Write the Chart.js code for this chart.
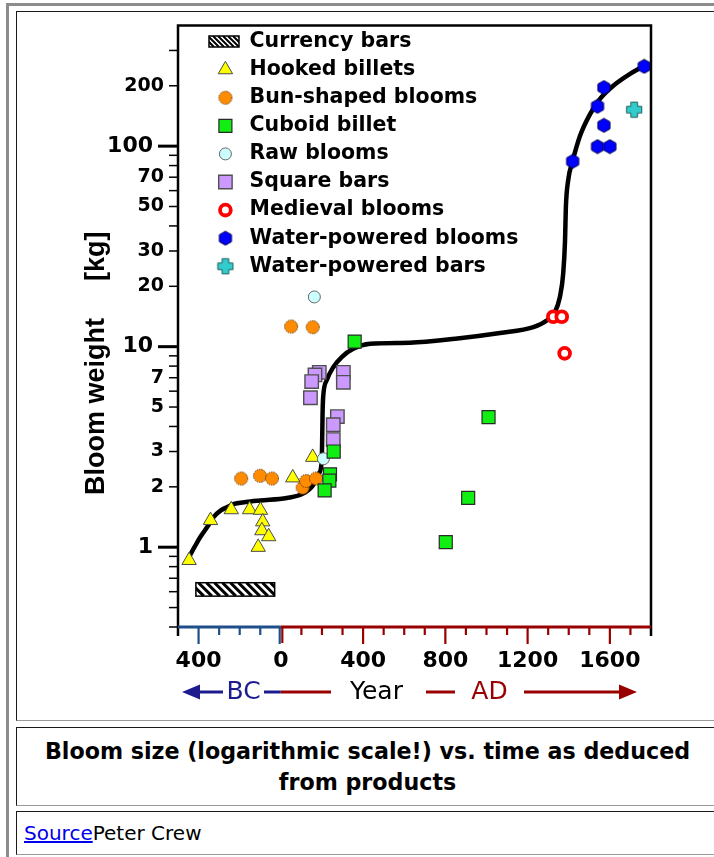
<!DOCTYPE html>
<html>
<head>
<meta charset="utf-8">
<title>Bloom size vs. time</title>
<script src="https://cdn.jsdelivr.net/npm/chart.js@4.4.1/dist/chart.umd.min.js"></script>
<style>
  html, body { margin:0; padding:0; background:#fff; }
  body { width:714px; height:857px; overflow:hidden; position:relative; }
  .box { position:absolute; box-sizing:border-box; }
  #outer { left:6px; top:3px; width:740px; height:900px; border-left:3px solid #8c8c8c; border-top:3px solid #8c8c8c; }
  .cell { left:16px; width:703px; border-top:1px solid #1a1a1a; border-left:1px solid #1a1a1a; border-right:1px solid #9a9a9a; border-bottom:1px solid #9a9a9a; }
  #c1 { top:11px; height:710px; }
  #c2 { top:727px; height:79px; }
  #c3 { top:811px; height:44px; }
  #caption { position:absolute; left:0; right:0; top:8px; text-align:center; font:bold 22.2px "DejaVu Sans", sans-serif; line-height:31px; color:#000; }
  #source { position:absolute; left:7px; top:10px; font:20px "DejaVu Sans", sans-serif; line-height:22px; color:#000; white-space:nowrap; }
  #source a { color:#0000ee; text-decoration:underline; }
  #chart { position:absolute; left:0; top:0; }
</style>
</head>
<body>
<div id="outer" class="box"></div>
<div id="c1" class="box cell"></div>
<div id="c2" class="box cell"><div id="caption">Bloom size (logarithmic scale!) vs. time as deduced<br>from products</div></div>
<div id="c3" class="box cell"><div id="source"><a href="#">Source</a>Peter Crew</div></div>
<canvas id="chart" width="714" height="720"></canvas>
<script>
// ---------------- data (years: negative = BC; weights in kg) ----------------
const hookedYear = [-446, -342, -241, -152, -99, -88, -92, -59, -110, 58, 155];
const hookedKg   = [0.86, 1.36, 1.54, 1.54, 1.53, 1.34, 1.21, 1.13, 1.00, 2.22, 2.81];

const bunYear = [50, 155, -193, -101, -43, 106, 123, 171];
const bunKg   = [12.6, 12.5, 2.20, 2.27, 2.20, 1.98, 2.14, 2.20];

const cuboidYear = [359, 257, 239, 236, 213, 802, 911, 1010];
const cuboidKg   = [10.6, 3.00, 2.31, 2.15, 1.92, 1.06, 1.76, 4.45];

const rawYear = [163, 207];
const rawKg   = [17.7, 2.76];

const squareYear = [187, 166, 150, 144, 304, 304, 275, 255, 255];
const squareKg   = [7.45, 7.23, 6.70, 5.56, 7.45, 6.64, 4.48, 4.08, 3.44];

const medievalYear = [1325, 1366, 1380];
const medievalKg   = [14.1, 14.1, 9.26];

const waterBloomYear = [1419, 1540, 1571, 1767, 1571, 1540, 1600];
const waterBloomKg   = [84, 158, 196, 250, 127, 99.5, 99.5];

const waterBarYear = [1718];
const waterBarKg   = [152];

const currencyYear = [-413, -30];
const currencyKg   = [0.57, 0.665];

const trendYear = [-446, -420, -390, -358, -325, -290, -258, -232, -170, -101, 29, 108, 157, 186,
                   199, 201, 203, 206, 223, 255, 296, 352, 434, 627, 849, 1066, 1228, 1293, 1333,
                   1357, 1373, 1382, 1386, 1397, 1419, 1455, 1503, 1552, 1617, 1698, 1762];
const trendKg   = [0.895, 1.0, 1.13, 1.26, 1.42, 1.53, 1.59, 1.64, 1.68, 1.71, 1.76, 1.85, 2.04, 2.34,
                   2.71, 3.41, 4.63, 5.62, 6.79, 7.9, 8.88, 9.77, 10.34, 10.47, 10.96, 11.7, 12.5, 13.5, 14.9,
                   17.7, 23.1, 33.8, 49.4, 67.3, 84.3, 112.6, 144, 172, 200, 229, 250];

const legendLabels = ['Currency bars', 'Hooked billets', 'Bun-shaped blooms', 'Cuboid billet', 'Raw blooms',
                      'Square bars', 'Medieval blooms', 'Water-powered blooms', 'Water-powered bars'];

const xTickValues = [-500, -400, -300, -200, -100, 0, 100, 200, 300, 400, 500, 600, 700, 800, 900,
                     1000, 1100, 1200, 1300, 1400, 1500, 1600, 1700, 1800];
const xLabelValues = [-400, 0, 400, 800, 1200, 1600];
const xLabelTexts  = ['400', '0', '400', '800', '1200', '1600'];

const yTickValues = [0.4, 0.5, 0.6, 0.7, 0.8, 0.9, 1, 2, 3, 4, 5, 6, 7, 8, 9, 10, 20, 30, 40, 50, 60, 70, 80, 90, 100, 200, 300];
const yLabelValues = [1, 2, 3, 5, 7, 10, 20, 30, 50, 70, 100, 200];
const yMajorValues = [1, 10, 100];

const yTitleParts = ['Bloom weight', '[kg]'];
const yearRowTexts = ['BC', 'Year', 'AD'];

// ---------------- marker images ----------------
function makeCanvas(w, h, draw) {
  const c = document.createElement('canvas'); c.width = w; c.height = h;
  draw(c.getContext('2d'), w, h); return c;
}
const bunImg = makeCanvas(16, 16, g => {
  g.beginPath(); g.arc(8, 8, 6.5, 0, Math.PI * 2);
  g.fillStyle = '#ff8c00'; g.fill();
  g.setLineDash([1.4, 1.0]); g.strokeStyle = '#5a3000'; g.lineWidth = 1; g.stroke();
});
const hexImg = makeCanvas(16, 16, g => {
  g.beginPath();
  for (let i = 0; i < 6; i++) {
    const a = -Math.PI / 2 + i * Math.PI / 3;
    const px = 8 + 7 * Math.cos(a), py = 8 + 7 * Math.sin(a);
    i ? g.lineTo(px, py) : g.moveTo(px, py);
  }
  g.closePath(); g.fillStyle = '#0000ff'; g.fill();
  g.strokeStyle = '#000050'; g.lineWidth = 1; g.stroke();
});
const crossImg = makeCanvas(18, 18, g => {
  const c = 9, a = 3.3, e = 7.6;
  g.beginPath();
  g.moveTo(c - a, c - e); g.lineTo(c + a, c - e); g.lineTo(c + a, c - a); g.lineTo(c + e, c - a);
  g.lineTo(c + e, c + a); g.lineTo(c + a, c + a); g.lineTo(c + a, c + e); g.lineTo(c - a, c + e);
  g.lineTo(c - a, c + a); g.lineTo(c - e, c + a); g.lineTo(c - e, c - a); g.lineTo(c - a, c - a);
  g.closePath(); g.fillStyle = '#33cccc'; g.fill();
  g.strokeStyle = '#1d5f5f'; g.lineWidth = 1; g.stroke();
});

const styles = {
  hooked:   { pointStyle: 'triangle', pointRadius: 8.3, pointBackgroundColor: '#ffff00', pointBorderColor: '#4a4a4a', pointBorderWidth: 1 },
  bun:      { pointStyle: bunImg, pointRadius: 7, pointBackgroundColor: '#ff8c00', pointBorderColor: '#5a3000', pointBorderWidth: 1 },
  cuboid:   { pointStyle: 'rect', pointRadius: 9.2, pointBackgroundColor: '#11ee11', pointBorderColor: '#2a2a2a', pointBorderWidth: 1.2 },
  raw:      { pointStyle: 'circle', pointRadius: 6, pointBackgroundColor: '#ccffff', pointBorderColor: '#666666', pointBorderWidth: 1 },
  square:   { pointStyle: 'rect', pointRadius: 9.5, pointBackgroundColor: '#cc99ff', pointBorderColor: '#505050', pointBorderWidth: 1.4 },
  medieval: { pointStyle: 'circle', pointRadius: 5.4, pointBackgroundColor: '#ffffff', pointBorderColor: '#ff0000', pointBorderWidth: 3.8 },
  wBloom:   { pointStyle: hexImg, pointRadius: 7, pointBackgroundColor: '#0000ff', pointBorderColor: '#000050', pointBorderWidth: 1 },
  wBar:     { pointStyle: crossImg, pointRadius: 8, pointBackgroundColor: '#33cccc', pointBorderColor: '#1d5f5f', pointBorderWidth: 1 }
};
const legendStyleKeys = [null, 'hooked', 'bun', 'cuboid', 'raw', 'square', 'medieval', 'wBloom', 'wBar'];

const BLUE_AXIS = '#1f4f8a', NAVY = '#1c1c8e', DARKRED = '#990000';

function pts(xs, ys) { return xs.map((x, i) => ({ x: x, y: ys[i] })); }

function hatch(ctx, x, y, w, h, step, lw) {
  ctx.save();
  ctx.fillStyle = '#fff'; ctx.fillRect(x, y, w, h);
  ctx.beginPath(); ctx.rect(x, y, w, h); ctx.clip();
  ctx.strokeStyle = '#000'; ctx.lineWidth = lw;
  ctx.beginPath();
  for (let k = -h; k < w + h; k += step) { ctx.moveTo(x + k, y); ctx.lineTo(x + k + h, y + h); }
  ctx.stroke();
  ctx.restore();
  ctx.save(); ctx.strokeStyle = '#000'; ctx.lineWidth = 1.5; ctx.strokeRect(x, y, w, h); ctx.restore();
}

function drawMarker(ctx, st, x, y) {
  ctx.save();
  ctx.fillStyle = st.pointBackgroundColor; ctx.strokeStyle = st.pointBorderColor; ctx.lineWidth = st.pointBorderWidth;
  const opts = { pointStyle: st.pointStyle, radius: st.pointRadius, rotation: 0, borderWidth: st.pointBorderWidth };
  if (Chart.helpers && Chart.helpers.drawPoint) {
    Chart.helpers.drawPoint(ctx, opts, x, y);
  } else if (st.pointStyle instanceof HTMLCanvasElement) {
    ctx.drawImage(st.pointStyle, x - st.pointStyle.width / 2, y - st.pointStyle.height / 2);
  }
  ctx.restore();
}

const decor = {
  id: 'decor',
  beforeDatasetsDraw(chart) {
    const ctx = chart.ctx, xs = chart.scales.x, ys = chart.scales.y;
    const x0 = xs.getPixelForValue(currencyYear[0]), x1 = xs.getPixelForValue(currencyYear[1]);
    const y0 = ys.getPixelForValue(currencyKg[1]), y1 = ys.getPixelForValue(currencyKg[0]);
    hatch(ctx, x0, y0, x1 - x0, y1 - y0, 8, 3);
  },
  afterDraw(chart) {
    const ctx = chart.ctx, xs = chart.scales.x, ys = chart.scales.y;
    const { left, right, top, bottom } = chart.chartArea;
    const x0 = xs.getPixelForValue(0);
    ctx.save();
    ctx.lineCap = 'butt';
    // frame
    ctx.strokeStyle = '#000'; ctx.lineWidth = 2.5;
    ctx.beginPath();
    ctx.moveTo(left, bottom + 9); ctx.lineTo(left, top); ctx.lineTo(right, top); ctx.lineTo(right, bottom + 9);
    ctx.stroke();
    // bottom axis line, BC blue / AD dark red
    ctx.lineWidth = 3;
    ctx.strokeStyle = BLUE_AXIS; ctx.beginPath(); ctx.moveTo(left, bottom); ctx.lineTo(x0, bottom); ctx.stroke();
    ctx.strokeStyle = DARKRED; ctx.beginPath(); ctx.moveTo(x0, bottom); ctx.lineTo(right, bottom); ctx.stroke();
    // x ticks
    xs.ticks.forEach(t => {
      const v = t.value;
      if (v === xTickValues[0] || v === xTickValues[xTickValues.length - 1]) return;
      const px = xs.getPixelForValue(v);
      const major = xLabelValues.includes(v);
      const len = major ? 17 : 8;
      ctx.lineWidth = 2.2;
      if (v === 0) {
        ctx.strokeStyle = BLUE_AXIS; ctx.beginPath(); ctx.moveTo(px - 1.1, bottom); ctx.lineTo(px - 1.1, bottom + len); ctx.stroke();
        ctx.strokeStyle = DARKRED; ctx.beginPath(); ctx.moveTo(px + 1.5, bottom); ctx.lineTo(px + 1.5, bottom + len - 1); ctx.stroke();
        return;
      }
      ctx.strokeStyle = v < 0 ? BLUE_AXIS : DARKRED;
      ctx.beginPath(); ctx.moveTo(px, bottom); ctx.lineTo(px, bottom + len); ctx.stroke();
    });
    // y ticks
    ctx.strokeStyle = '#000';
    ys.ticks.forEach(t => {
      const v = t.value;
      const py = ys.getPixelForValue(v);
      const major = yMajorValues.includes(v);
      ctx.lineWidth = major ? 3 : 1.5;
      ctx.beginPath(); ctx.moveTo(left - (major ? 20 : 9), py); ctx.lineTo(left, py); ctx.stroke();
    });
    // y axis title
    ctx.fillStyle = '#000';
    ctx.font = 'bold 27px "Liberation Sans", Arial, sans-serif';
    ctx.textAlign = 'left'; ctx.textBaseline = 'alphabetic';
    [[yTitleParts[0], 495], [yTitleParts[1], 281]].forEach(([txt, yy]) => {
      ctx.save(); ctx.translate(104, yy); ctx.rotate(-Math.PI / 2); ctx.fillText(txt, 0, 0); ctx.restore();
    });
    // Year row with arrows
    const yr = 692;
    ctx.lineWidth = 3;
    const seg = (a, b, c) => { ctx.strokeStyle = c; ctx.beginPath(); ctx.moveTo(a, yr); ctx.lineTo(b, yr); ctx.stroke(); };
    ctx.fillStyle = NAVY;
    ctx.beginPath(); ctx.moveTo(182, yr); ctx.lineTo(200, yr - 7.5); ctx.lineTo(200, yr + 7.5); ctx.closePath(); ctx.fill();
    seg(198, 223, NAVY);
    seg(264, x0, NAVY);
    seg(x0, 331, DARKRED);
    seg(426, 455, DARKRED);
    seg(524, 621, DARKRED);
    ctx.fillStyle = DARKRED;
    ctx.beginPath(); ctx.moveTo(637, yr); ctx.lineTo(619, yr - 7.5); ctx.lineTo(619, yr + 7.5); ctx.closePath(); ctx.fill();
    ctx.font = '25px "DejaVu Sans", sans-serif';
    ctx.textAlign = 'center'; ctx.textBaseline = 'middle';
    ctx.fillStyle = NAVY; ctx.fillText(yearRowTexts[0], 243.5, yr);
    ctx.fillStyle = '#000'; ctx.fillText(yearRowTexts[1], 376.5, yr);
    ctx.fillStyle = DARKRED; ctx.fillText(yearRowTexts[2], 489.5, yr);
    // legend
    const rowY0 = 41.5, rowStep = 28.1, iconX = 225.4, textX = 249.5;
    legendLabels.forEach((lab, i) => {
      const y = rowY0 + i * rowStep;
      if (i === 0) hatch(ctx, 209, y - 5.5, 30, 11, 5, 2);
      else drawMarker(ctx, styles[legendStyleKeys[i]], iconX, y);
      ctx.fillStyle = '#000';
      ctx.font = 'bold 20.5px "DejaVu Sans", sans-serif';
      ctx.textAlign = 'left'; ctx.textBaseline = 'middle';
      ctx.fillText(lab, textX, y);
    });
    ctx.restore();
  }
};

function scatterSet(label, xs, ys, st, order) {
  return Object.assign({ label: label, data: pts(xs, ys), showLine: false, order: order }, st);
}

const chart = new Chart(document.getElementById('chart'), {
  type: 'scatter',
  data: {
    datasets: [
      scatterSet(legendLabels[1], hookedYear, hookedKg, styles.hooked, 5),
      scatterSet(legendLabels[2], bunYear, bunKg, styles.bun, 4),
      scatterSet(legendLabels[3], cuboidYear, cuboidKg, styles.cuboid, 2),
      scatterSet(legendLabels[4], rawYear, rawKg, styles.raw, 3),
      scatterSet(legendLabels[5], squareYear, squareKg, styles.square, 6),
      scatterSet(legendLabels[6], medievalYear, medievalKg, styles.medieval, 1),
      scatterSet(legendLabels[7], waterBloomYear, waterBloomKg, styles.wBloom, 1),
      scatterSet(legendLabels[8], waterBarYear, waterBarKg, styles.wBar, 1),
      {
        type: 'line', label: 'trend', data: pts(trendYear, trendKg), showLine: true,
        borderColor: '#000', borderWidth: 4.5, pointRadius: 0, fill: false,
        cubicInterpolationMode: 'monotone', order: 100, borderCapStyle: 'round'
      }
    ]
  },
  options: {
    responsive: false, animation: false, devicePixelRatio: 1, events: [],
    layout: { padding: { left: 0, right: 63, top: 25, bottom: 0 } },
    plugins: { legend: { display: false }, tooltip: { enabled: false }, title: { display: false } },
    scales: {
      x: {
        type: 'linear', min: -500, max: 1800,
        afterBuildTicks: s => { s.ticks = xTickValues.map(v => ({ value: v })); },
        afterFit: s => { s.height = 93; },
        grid: { display: false, drawTicks: false, drawOnChartArea: false },
        border: { display: false },
        ticks: {
          autoSkip: false, maxRotation: 0, minRotation: 0, padding: 21, color: '#000',
          font: { family: '"DejaVu Sans", sans-serif', weight: 'bold', size: 22 },
          callback: v => { const i = xLabelValues.indexOf(v); return i >= 0 ? xLabelTexts[i] : ''; }
        }
      },
      y: {
        type: 'logarithmic', min: 0.4, max: 400,
        afterBuildTicks: s => { s.ticks = yTickValues.map(v => ({ value: v })); },
        afterFit: s => { s.width = 178; },
        grid: { display: false, drawTicks: false, drawOnChartArea: false },
        border: { display: false },
        ticks: {
          autoSkip: false, padding: 14, color: '#000',
          font: c => ({ family: '"DejaVu Sans", sans-serif', weight: 'bold',
                        size: (c.tick && yMajorValues.includes(c.tick.value)) ? 22 : 19 }),
          callback: v => yLabelValues.includes(v) ? (yMajorValues.includes(v) ? v + '\u2002' : String(v)) : ''
        }
      }
    }
  },
  plugins: [decor]
});
</script>
</body>
</html>
